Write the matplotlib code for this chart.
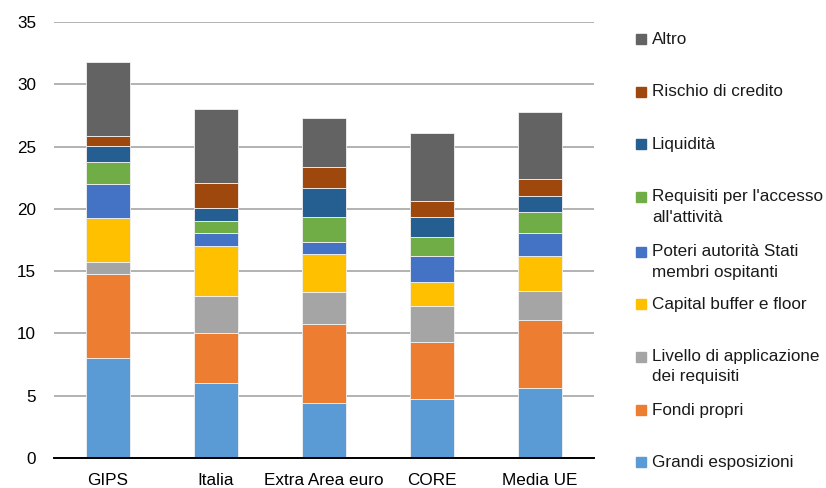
import numpy as np
import matplotlib
matplotlib.use("Agg")
import matplotlib.pyplot as plt
from matplotlib.patches import Rectangle

plt.rcParams['font.family'] = ['Liberation Sans', 'DejaVu Sans']

# categorie sull'asse x
paesi = ["GIPS", "Italia", "Extra Area euro", "CORE", "Media UE"]

# componenti, dal basso verso l'alto
grandi_esposizioni = [8.05, 6.0, 4.4, 4.7, 5.6]
fondi_propri = [6.7, 4.0, 6.35, 4.6, 5.5]
livello_applicazione = [1.0, 3.0, 2.6, 2.9, 2.3]
capital_buffer = [3.55, 4.05, 3.0, 1.95, 2.8]
poteri_autorita = [2.7, 1.0, 1.0, 2.05, 1.9]
requisiti_accesso = [1.8, 1.0, 2.0, 1.55, 1.65]
liquidita = [1.25, 1.0, 2.35, 1.6, 1.3]
rischio_credito = [0.8, 2.0, 1.65, 1.3, 1.35]
altro = [5.95, 5.95, 3.95, 5.4, 5.35]

serie = [grandi_esposizioni, fondi_propri, livello_applicazione, capital_buffer,
         poteri_autorita, requisiti_accesso, liquidita, rischio_credito, altro]
etichette = ["Grandi esposizioni", "Fondi propri", "Livello di applicazione\ndei requisiti",
             "Capital buffer e floor", "Poteri autorità Stati\nmembri ospitanti",
             "Requisiti per l'accesso\nall'attività", "Liquidità", "Rischio di credito", "Altro"]
colori = ["#5B9BD5", "#ED7D31", "#A5A5A5", "#FFC000", "#4472C4",
          "#70AD47", "#255E91", "#9E480E", "#636363"]

W, H = 826, 488
fig = plt.figure(figsize=(W / 100, H / 100), dpi=100)
ax = fig.add_axes([54 / W, 1 - 458 / H, 540 / W, 436 / H])

x = np.arange(len(paesi))
base = np.zeros(len(paesi))
for valori, col in zip(serie, colori):
    ax.bar(x, valori, bottom=base, width=0.4, color=col,
           edgecolor="#f2f2f2", linewidth=0.6, zorder=3)
    base += np.array(valori)

ax.set_xlim(-0.5, len(paesi) - 0.5)
ax.set_ylim(0, 35)
ax.set_yticks(range(0, 36, 5))
ax.set_xticks(x)
ax.set_xticklabels(paesi)
ax.tick_params(axis="y", length=0, pad=13, labelsize=12.3)
ax.tick_params(axis="x", length=0, pad=11, labelsize=12.3)
ax.grid(axis="y", color="#a6a6a6", linewidth=1.2, zorder=0)
for s in ["top", "right", "left"]:
    ax.spines[s].set_visible(False)
ax.spines["bottom"].set_color("black")
ax.spines["bottom"].set_linewidth(1.4)
ax.spines["bottom"].set_zorder(4)

# legenda a destra, dall'alto verso il basso
righe_y = [39, 92, 144, 197, 252, 304, 357, 410, 462]
for yy, lab, col in zip(righe_y, etichette[::-1], colori[::-1]):
    fig.add_artist(Rectangle((636 / W, 1 - (yy + 5) / H), 10 / W, 10 / H,
                             transform=fig.transFigure, color=col))
    for i, riga in enumerate(lab.split("\n")):
        fig.text(652 / W, 1 - (yy + 20 * i) / H, riga, fontsize=12.3,
                 va="center", ha="left", color="#1a1a1a")

fig.savefig("out.png", dpi=100)
